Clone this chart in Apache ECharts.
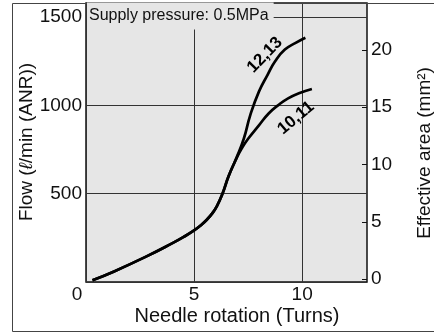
<!DOCTYPE html>
<html>
<head>
<meta charset="utf-8">
<style>
  html, body { margin: 0; padding: 0; background: #fff; }
  #chart { width: 434px; height: 333px; }
</style>
<script src="https://cdn.jsdelivr.net/npm/echarts@6/dist/echarts.min.js"></script>
</head>
<body>
<div id="chart"></div>
<script>
// axis ticks
const xTicks = [0, 5, 10]
const flowTicks = [0, 500, 1000, 1500]
const areaTicks = [0, 5, 10, 15, 20]

// curve: [needle turns, flow]
const commonCurve = [
  [0.3, 10], [1.3, 60], [2.8, 145], [4.0, 220], [4.5, 254], [5.0, 292],
  [5.3, 320], [5.6, 354], [5.85, 390], [6.05, 428], [6.3, 495], [6.6, 600]
]
const branch1213 = [
  [6.95, 700], [7.3, 811], [7.6, 945], [8.0, 1078], [8.4, 1173],
  [8.75, 1250], [9.2, 1316], [9.7, 1354], [10.15, 1383]
]
const branch1011 = [
  [6.95, 697], [7.2, 755], [7.5, 811], [8.0, 887], [8.45, 954],
  [8.9, 1002], [9.35, 1040], [9.85, 1069], [10.45, 1093]
]

const font = 'Liberation Sans, Arial, sans-serif'
const ink = '#111'
const plotBg = '#e6e6e6'

const chart = echarts.init(document.getElementById('chart'))

const lineStyle = { color: '#000', width: 2.7 }

function curveSeries(branch) {
  return {
    type: 'line',
    data: commonCurve.concat(branch),
    smooth: 0.5,
    showSymbol: false,
    lineStyle: lineStyle
  }
}

const option = {
  animation: false,
  textStyle: { fontFamily: font },
  grid: {
    left: 86,
    right: 67,
    top: 3,
    bottom: 51,
    show: true,
    backgroundColor: plotBg,
    borderColor: '#111',
    borderWidth: 1.5
  },
  xAxis: {
    type: 'value',
    min: 0,
    max: 13,
    axisLine: { show: false },
    axisTick: { show: false, customValues: xTicks },
    splitLine: { show: true, lineStyle: { color: '#333', width: 1 } },
    axisLabel: {
      customValues: xTicks,
      margin: 3,
      fontSize: 19,
      color: ink,
      fontFamily: font,
      formatter: v => (v === 0 ? '{z|0}' : String(v)),
      rich: { z: { fontSize: 19, color: ink, fontFamily: font, padding: [0, 18, 0, 0] } }
    }
  },
  yAxis: [
    {
      type: 'value',
      min: 0,
      max: 1580,
      axisLine: { show: false },
      axisTick: { show: false, customValues: flowTicks },
      splitLine: { show: true, lineStyle: { color: '#333', width: 1 } },
      axisLabel: {
        customValues: flowTicks,
        margin: 4,
        fontSize: 19,
        color: ink,
        fontFamily: font,
        formatter: v => (v === 0 ? '' : String(v))
      }
    },
    {
      type: 'value',
      position: 'right',
      min: -0.26,
      max: 24.1,
      axisLine: { show: false },
      axisTick: {
        show: true,
        inside: true,
        length: 5,
        customValues: areaTicks,
        lineStyle: { color: '#111', width: 1 }
      },
      splitLine: { show: false },
      axisLabel: {
        customValues: areaTicks,
        margin: 4,
        fontSize: 19,
        color: ink,
        fontFamily: font
      }
    }
  ],
  series: [
    curveSeries(branch1213),
    curveSeries(branch1011)
  ],
  graphic: [
    // outer frame
    {
      type: 'rect',
      z: 100,
      shape: { x: 12.5, y: 3.5, width: 440, height: 328 },
      style: { fill: 'none', stroke: '#444', lineWidth: 1 }
    },
    {
      type: 'text',
      z: 100,
      x: 87,
      y: 16,
      style: {
        text: 'Supply pressure: 0.5MPa',
        font: '16px ' + font,
        fill: ink,
        verticalAlign: 'middle',
        backgroundColor: plotBg,
        padding: [6, 5, 5, 2]
      }
    },
    {
      type: 'text',
      z: 100,
      x: 265,
      y: 55,
      rotation: 46 * Math.PI / 180,
      style: {
        text: '12,13',
        font: 'bold 17px ' + font,
        fill: '#000',
        align: 'center',
        verticalAlign: 'middle'
      }
    },
    {
      type: 'text',
      z: 100,
      x: 296,
      y: 118,
      rotation: 40 * Math.PI / 180,
      style: {
        text: '10,11',
        font: 'bold 17px ' + font,
        fill: '#000',
        align: 'center',
        verticalAlign: 'middle'
      }
    },
    // axis names
    {
      type: 'text',
      z: 100,
      x: 237,
      y: 316,
      style: {
        text: 'Needle rotation (Turns)',
        font: '20px ' + font,
        fill: ink,
        align: 'center',
        verticalAlign: 'middle'
      }
    },
    {
      type: 'text',
      z: 100,
      x: 27,
      y: 142,
      rotation: Math.PI / 2,
      style: {
        text: 'Flow ({i|ℓ}/min (ANR))',
        font: '19px ' + font,
        fill: ink,
        align: 'center',
        verticalAlign: 'middle',
        rich: { i: { font: 'italic 19px ' + font, fill: ink } }
      }
    },
    {
      type: 'text',
      z: 100,
      x: 425,
      y: 153,
      rotation: Math.PI / 2,
      style: {
        text: 'Effective area (mm²)',
        font: '19px ' + font,
        fill: ink,
        align: 'center',
        verticalAlign: 'middle'
      }
    }
  ]
}

chart.setOption(option)
</script>
</body>
</html>
